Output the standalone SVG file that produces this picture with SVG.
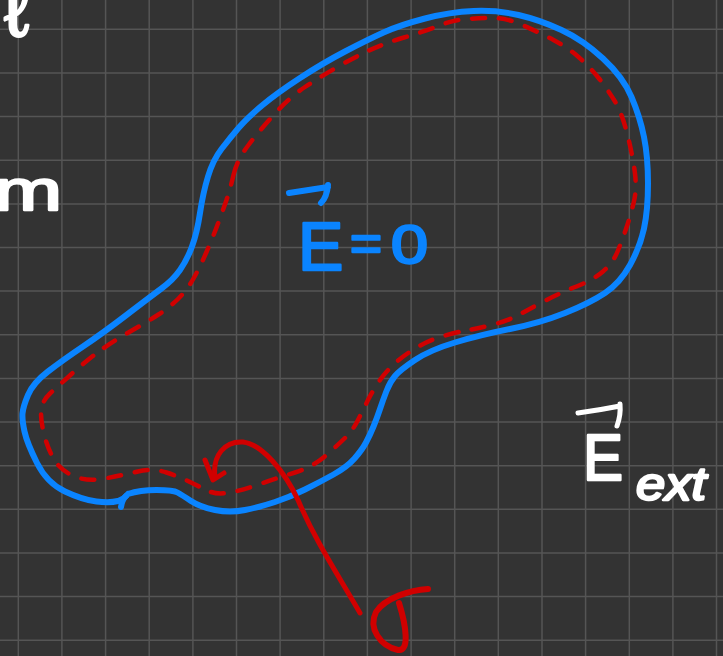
<svg xmlns="http://www.w3.org/2000/svg" width="723" height="656" viewBox="0 0 723 656">
<style>
.grid{stroke:#555555;stroke-width:1.5;fill:none}
.blue{stroke:#0a84ff;stroke-width:6;fill:none;stroke-linecap:round;stroke-linejoin:round}
.red{stroke:#d10000;fill:none;stroke-linecap:round;stroke-linejoin:round}
.white{stroke:#ffffff;stroke-width:5;fill:none;stroke-linecap:round;stroke-linejoin:round}
.tb{font-family:"Liberation Sans","DejaVu Sans",sans-serif;fill:#0a84ff;stroke:#0a84ff;stroke-width:2.4;stroke-linejoin:round}
.tw{font-family:"Liberation Sans","DejaVu Sans",sans-serif;fill:#ffffff;stroke:#ffffff;stroke-width:2.4;stroke-linejoin:round}
</style>
<rect width="723" height="656" fill="#333333"/>
<g id="grid" class="grid">
<path d="M18.3 0V656M61.9 0V656M105.6 0V656M149.2 0V656M192.9 0V656M236.5 0V656M280.1 0V656M323.8 0V656M367.4 0V656M411.1 0V656M454.7 0V656M498.3 0V656M542 0V656M585.6 0V656M629.3 0V656M672.9 0V656M716.5 0V656"/>
<path d="M0 29.3H723M0 72.9H723M0 116.6H723M0 160.2H723M0 203.9H723M0 247.5H723M0 291.1H723M0 334.8H723M0 378.4H723M0 422.1H723M0 465.7H723M0 509.3H723M0 553H723M0 596.6H723M0 640.3H723"/>
</g>
<g id="edge-text">
<text class="tw" x="4" y="36" font-size="78" font-family="DejaVu Sans">ℓ</text>
<text class="tw" x="-6" y="210" font-size="58" textLength="68" lengthAdjust="spacingAndGlyphs">m</text>
</g>
<g id="charge-layer">
<path class="red" stroke-width="4.5" stroke-dasharray="13 14" d="M 233.5,175 Q 237,160 248.5,145 Q 260,130 275,113.5 Q 290,97 305,87 Q 320,77 336.5,67.5 Q 353,58 369,50.5 Q 385,43 404,37.5 Q 423,32 438,26 Q 453,20 466.5,19 Q 480,18 493.5,18 Q 507,18 523.5,25.5 Q 540,33 553.5,40 Q 567,47 578.5,57 Q 590,67 599,78.5 Q 608,90 615,101.5 Q 622,113 627.5,135 Q 633,157 635,173.5 Q 637,190 633.5,203.5 Q 630,217 626.5,227.5 Q 623,238 618,250.5 Q 613,263 603,271.5 Q 593,280 576.5,286.5 Q 560,293 546.5,300 Q 533,307 521.5,313.5 Q 510,320 495,324 Q 480,328 468.5,330 Q 457,332 443.5,336 Q 430,340 418.5,346.5 Q 407,353 397,361.5 Q 387,370 380,380 Q 373,390 368,400 Q 363,410 358,420 Q 353,430 346.5,436.5 Q 340,443 326.5,455 Q 313,467 295,472.5 Q 277,478 260,484 Q 243,490 230,492.5 Q 217,495 208.5,491 Q 200,487 190,482 Q 180,477 166.5,472.5 Q 153,468 138,471.5 Q 123,475 105,478.5 Q 87,482 73.5,476 Q 60,470 53.5,458.5 Q 47,447 43.5,432 Q 40,417 41.5,408.5 Q 43,400 50,393.5 Q 57,387 71,374.5 Q 85,362 97.5,352.5 Q 110,343 128.5,332.5 Q 147,322 158.5,314.5 Q 170,307 178.5,298.5 Q 187,290 193.5,278.5 Q 200,267 206.5,252 Q 213,237 218,223.5 Q 223,210 226.5,200 Q 230,190 233.5,175 Z"/>
</g>
<g id="conductor">
<path class="blue" d="M 128,494 Q 140,490 156.5,490 Q 173,490 177.5,492.5 Q 182,495 191,501 Q 200,507 215,510 Q 230,513 245,510 Q 260,507 275,502 Q 290,497 305,489.5 Q 320,482 333.5,474.5 Q 347,467 354.5,458.5 Q 362,450 366,442.5 Q 370,435 373.5,426.5 Q 377,418 380,409 Q 383,400 386.5,391 Q 390,382 395,376 Q 400,370 415,360 Q 430,350 455,342.5 Q 480,335 510,329 Q 540,323 565,313 Q 590,303 605,293 Q 620,283 630,265 Q 640,247 644,228.5 Q 648,210 648,183.5 Q 648,157 644,137 Q 640,117 631.5,97 Q 623,77 603,58.5 Q 583,40 561.5,30 Q 540,20 518.5,15 Q 497,10 473.5,11 Q 450,12 425,18.5 Q 400,25 383.5,32.5 Q 367,40 345,51.5 Q 323,63 300,78 Q 277,93 262,105.5 Q 247,118 238.5,128 Q 230,138 221.5,149 Q 213,160 208,176.5 Q 203,193 200,213 Q 197,233 192,246.5 Q 187,260 180,270 Q 173,280 161.5,288.5 Q 150,297 126.5,315 Q 103,333 83,346.5 Q 63,360 48,371.5 Q 33,383 28,395 Q 23,407 22.5,413.5 Q 22,420 24.5,431.5 Q 27,443 37,463 Q 47,483 65,491.5 Q 83,500 96.5,501.5 Q 110,503 118,501 Q 124,499 128,494"/>
<path class="blue" d="M 126,496 Q 122,500 121,507"/>
</g>
<g id="label-E-inside">
<path class="blue" stroke-width="5.5" d="M 289,193 L 328,187 M 328,185 Q 327,197 321,203"/>
<text class="tb" x="298" y="270" font-size="68">E</text>
<text class="tb" x="350" y="260" font-size="50" textLength="32" lengthAdjust="spacingAndGlyphs">=</text>
<text class="tb" x="391" y="263" font-size="54" textLength="37" lengthAdjust="spacingAndGlyphs">0</text>
</g>
<g id="label-E-ext">
<path class="white" d="M 578,413 Q 600,410 620,406 M 620,404 Q 621,415 617,426"/>
<text class="tw" x="583" y="480" font-size="64" textLength="40" lengthAdjust="spacingAndGlyphs">E</text>
<text class="tw" x="636" y="500" font-size="46" font-style="italic" textLength="70" lengthAdjust="spacingAndGlyphs">ext</text>
</g>
<g id="connectors">
<path class="red" stroke-width="5" d="M 215,478 C 212,455 225,441 243,442 C 262,444 285,472 298,500 C 315,540 335,570 360,613"/>
<path class="red" stroke-width="5" d="M 205,460 L 213,480 L 224,473"/>
</g>
<g id="sigma">
<path class="red" stroke-width="6" d="M 428,589 C 410,590 385,598 376,612 C 368,628 380,646 398,650 C 410,652 406,625 399,603"/>
</g>
</svg>
